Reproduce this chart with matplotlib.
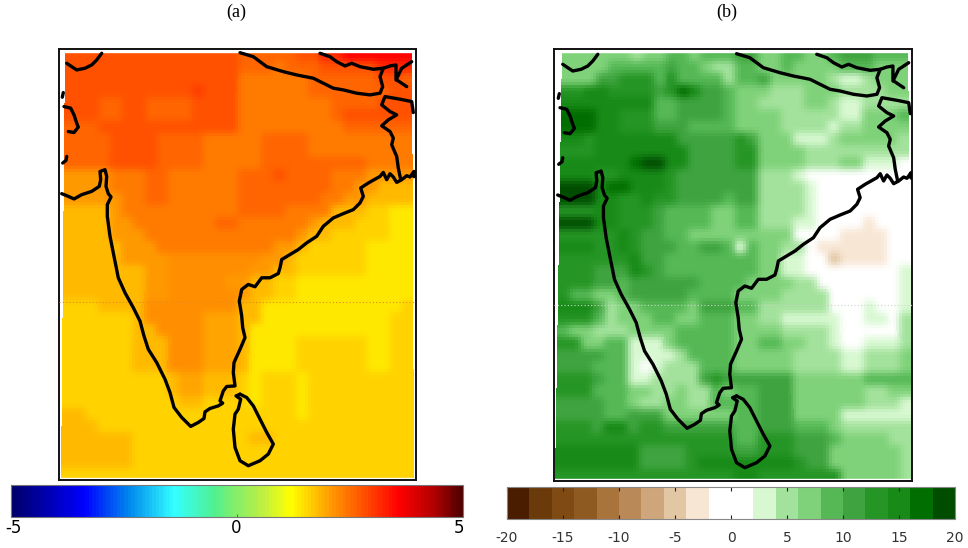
import numpy as np
import matplotlib
matplotlib.use('Agg')
import matplotlib.pyplot as plt
from matplotlib.colors import LinearSegmentedColormap, ListedColormap, BoundaryNorm, Normalize
from matplotlib.cm import ScalarMappable

# (a) temperature change, tenths of a degree, north to south
temp_tenths = [
    [28,28,28,28,28,28,28,28,28,28,28,28,28,28,28,26,26,26,26,26,28,28,32,32,36,36,36,36,36,36],
    [28,28,28,28,28,28,28,28,28,28,28,28,28,28,28,26,26,26,24,26,26,26,28,28,28,28,28,32,32,32],
    [28,28,28,28,28,28,28,28,28,28,28,28,28,28,28,24,24,24,24,24,24,26,26,26,26,26,26,28,28,26],
    [28,28,28,28,28,28,28,28,28,28,28,30,28,28,28,24,24,24,24,24,24,26,26,26,26,26,26,26,28,28],
    [28,28,28,26,26,28,28,26,26,26,26,28,28,28,28,24,24,24,24,24,24,24,24,26,26,26,26,28,28,28],
    [28,28,28,26,26,28,28,26,26,26,26,28,28,28,28,24,24,24,24,24,24,24,24,26,28,28,28,28,28,28],
    [26,26,26,28,28,28,28,28,28,28,28,28,28,28,28,24,24,24,24,24,24,24,24,24,26,26,26,26,26,26],
    [26,26,26,26,28,28,28,28,26,26,26,26,24,24,24,24,24,26,26,26,26,24,24,24,24,24,24,24,24,24],
    [26,26,26,26,28,28,28,28,26,26,26,26,24,24,24,24,24,26,26,26,26,24,24,24,24,24,24,24,24,24],
    [26,26,26,26,28,28,28,28,26,26,26,26,24,24,24,24,24,26,26,26,26,26,26,26,26,26,24,24,24,24],
    [21,21,21,21,24,24,24,26,26,24,24,24,24,24,24,26,26,26,28,26,26,26,26,24,24,24,21,21,21,21],
    [21,21,21,21,24,24,24,26,26,24,24,24,24,24,24,26,26,26,26,26,26,26,26,24,24,21,21,18,18,18],
    [21,21,21,21,21,24,24,26,26,24,24,24,24,24,24,26,26,26,26,26,26,26,24,24,21,21,18,18,18,18],
    [18,18,18,18,21,24,24,24,24,24,24,24,24,24,24,26,26,26,26,24,24,24,24,18,18,18,16,16,14,14],
    [18,18,18,18,21,21,24,24,24,24,24,24,24,26,26,24,24,24,24,24,24,21,18,18,18,16,16,16,14,14],
    [18,18,18,18,21,21,21,24,24,24,24,24,24,24,24,24,24,24,24,24,21,18,18,16,16,16,16,16,14,14],
    [18,18,18,18,18,21,21,21,24,24,24,24,24,24,24,24,24,24,21,21,18,16,16,16,16,16,14,14,14,14],
    [18,18,18,18,18,21,21,21,21,22,22,22,22,22,22,22,22,21,21,18,16,16,16,16,16,16,14,14,14,14],
    [18,18,18,18,18,18,18,21,21,22,22,22,22,22,22,22,21,21,18,18,16,16,16,16,16,16,14,14,14,14],
    [18,18,18,18,18,18,18,21,21,22,22,22,22,22,21,21,18,18,16,16,14,14,14,14,14,14,14,14,14,14],
    [18,18,18,18,18,18,18,21,21,22,22,22,22,22,22,21,18,18,16,16,14,14,14,14,14,14,14,14,14,14],
    [16,16,16,18,18,18,18,22,22,22,22,22,22,22,22,18,18,14,14,14,14,14,14,14,14,14,14,14,14,16],
    [16,16,16,16,16,16,18,22,22,22,22,22,20,20,20,18,18,14,14,14,14,14,14,14,14,14,14,14,16,16],
    [16,16,16,16,16,16,18,18,22,22,22,22,20,20,20,18,14,14,14,14,14,14,14,14,14,14,14,14,16,16],
    [16,16,16,16,16,16,18,18,18,22,22,22,20,20,20,18,14,14,14,14,16,16,16,16,16,16,14,14,16,16],
    [16,16,16,16,16,16,18,18,18,22,22,22,20,20,20,18,14,14,14,14,16,16,16,16,16,16,14,14,16,16],
    [16,16,16,16,16,16,18,18,18,22,22,22,20,20,20,18,14,14,14,14,16,16,16,16,16,16,14,14,16,16],
    [16,16,16,16,16,16,16,16,16,18,20,20,18,18,18,16,14,16,16,16,14,16,16,16,16,16,16,16,16,16],
    [16,16,16,16,16,16,16,16,16,18,20,20,18,18,18,16,14,16,16,16,14,16,16,16,16,16,16,16,16,16],
    [16,16,16,16,16,16,16,16,16,16,18,18,16,16,16,16,14,16,16,16,14,16,16,16,16,16,16,16,16,16],
    [18,18,16,16,16,16,16,16,16,16,16,16,16,16,16,16,16,16,16,16,14,16,16,16,16,16,16,16,16,16],
    [18,18,18,16,16,16,16,16,16,16,16,16,16,16,16,16,16,16,16,16,16,16,16,16,16,16,16,16,16,16],
    [18,18,18,18,18,18,16,16,16,16,16,16,16,16,16,16,18,18,16,16,16,16,16,16,16,16,16,16,16,16],
    [18,18,18,18,18,18,16,16,16,16,16,16,16,16,16,16,16,16,16,16,16,16,16,16,16,16,16,16,16,16],
    [18,18,18,18,18,18,16,16,16,16,16,16,16,16,16,16,16,16,16,16,16,16,16,16,16,16,16,16,16,16],
    [16,16,16,16,16,16,16,16,16,16,16,16,16,16,16,16,16,16,16,16,16,16,16,16,16,16,16,16,16,16],
]

# (b) rainfall change in percent, north to south
rain_pct = [
    [7,7,7,7,7,7,5,7,7,9,9,7,9,9,9,11,11,7,7,9,9,7,7,9,11,11,11,9,9,9],
    [7,7,7,7,9,9,9,9,9,11,9,9,7,5,5,9,9,7,7,9,7,7,7,7,9,9,9,7,7,7],
    [7,7,7,11,11,13,13,13,9,13,9,9,9,9,5,9,9,11,7,7,7,7,7,5,3,3,5,7,7,7],
    [13,13,15,15,13,13,13,13,11,13,17,15,11,11,9,7,7,7,5,5,5,7,7,7,5,5,5,5,7,7],
    [15,15,15,15,15,15,15,15,9,9,11,11,11,11,9,7,7,5,5,5,5,7,7,5,3,3,5,5,5,5],
    [17,17,17,15,15,13,13,13,9,9,11,11,11,11,9,7,7,7,7,5,5,5,5,5,3,3,7,7,7,9],
    [17,17,17,15,15,13,13,13,11,11,11,9,9,9,9,7,7,7,7,5,5,5,5,3,5,5,7,7,7,7],
    [15,15,13,15,15,15,15,15,15,15,11,11,11,11,11,13,11,7,7,7,3,3,3,5,7,7,7,7,7,5],
    [13,13,13,15,15,15,15,15,15,15,15,11,11,11,11,13,13,7,7,7,7,5,5,5,5,5,5,5,5,5],
    [15,15,15,15,15,15,17,19,19,15,15,11,11,11,11,13,13,7,7,7,7,5,5,5,7,7,3,3,3,0],
    [15,15,15,13,13,15,15,15,15,13,11,11,11,11,11,11,11,5,5,5,3,0,0,0,0,0,0,0,0,0],
    [19,19,19,15,17,17,15,15,15,13,11,11,11,11,11,11,11,5,5,5,5,3,0,0,0,0,0,0,0,0],
    [19,19,19,15,15,13,13,15,13,13,11,11,11,11,9,11,11,5,5,5,5,3,0,0,0,0,0,0,0,0],
    [13,13,13,15,15,13,13,13,11,9,9,9,9,7,7,9,9,5,5,5,5,3,0,0,0,0,0,0,0,0],
    [19,19,19,15,15,13,13,13,11,9,9,9,9,7,7,9,9,5,5,5,3,3,0,0,0,0,-3,0,0,0],
    [13,13,13,13,13,15,13,11,11,9,9,7,7,7,7,7,7,7,7,7,0,0,0,0,-3,-3,-3,-3,0,0],
    [15,15,15,13,13,15,13,11,11,11,9,9,11,11,9,3,9,7,7,5,5,0,-3,-3,-3,-3,-3,-3,0,0],
    [13,13,13,13,13,13,15,11,11,9,9,9,9,9,9,9,9,7,7,3,3,0,0,-5,-3,-3,-3,-3,0,0],
    [13,13,13,11,11,11,15,13,11,9,9,9,9,9,9,9,9,7,7,3,3,0,0,0,0,0,0,0,0,3],
    [13,13,13,11,11,9,11,11,11,11,11,11,9,9,9,9,7,7,7,7,5,5,0,0,0,0,0,0,0,3],
    [13,9,9,7,7,9,11,11,11,11,11,9,9,9,9,7,7,7,7,5,5,5,5,0,0,0,0,0,0,3],
    [15,15,15,11,5,7,7,9,9,9,9,7,11,11,11,9,9,5,5,5,5,5,5,0,0,0,3,0,0,3],
    [13,13,13,9,5,7,7,7,9,9,7,7,9,9,9,7,7,5,5,3,3,3,3,3,0,0,3,3,0,5],
    [9,7,7,5,5,5,7,7,7,7,9,9,9,9,9,7,7,7,7,5,5,5,5,3,0,0,0,0,0,5],
    [13,13,7,7,9,9,3,3,3,7,9,9,9,9,9,7,7,9,9,7,7,5,5,3,0,0,3,3,3,5],
    [11,11,11,11,9,9,3,3,3,3,5,9,9,9,9,7,7,7,7,7,5,5,5,5,3,3,5,5,5,7],
    [11,11,11,9,9,9,3,0,3,5,5,5,9,9,9,7,7,7,7,7,5,5,5,5,3,3,5,5,5,7],
    [13,13,13,11,9,9,3,3,5,5,5,5,11,13,11,11,11,11,11,11,7,7,7,7,7,7,9,9,9,9],
    [13,13,13,9,9,9,7,7,5,5,7,5,5,9,7,9,9,11,11,11,7,7,7,7,7,7,5,5,7,7],
    [11,11,11,11,9,9,7,5,5,7,7,5,5,9,9,9,9,11,11,11,7,7,7,7,7,7,5,5,5,3],
    [11,11,11,11,9,9,11,11,11,7,7,7,7,7,7,9,9,11,11,11,7,7,7,7,3,3,3,3,3,3],
    [13,13,13,11,15,15,11,13,13,11,11,11,11,11,11,9,9,11,11,11,9,9,9,7,5,5,5,5,5,5],
    [13,13,13,13,13,13,13,13,13,13,13,13,13,13,13,9,9,13,13,13,11,11,11,9,7,7,7,7,5,5],
    [15,15,15,15,15,15,15,11,11,11,11,13,13,13,13,11,11,13,13,13,11,11,11,7,7,7,7,7,7,5],
    [15,15,15,15,15,15,15,11,11,11,11,13,15,15,15,15,15,15,15,15,13,11,11,7,7,7,7,7,7,5],
    [13,13,13,13,13,13,13,13,13,13,13,13,13,13,13,15,15,13,13,13,13,13,13,13,7,7,7,7,7,5],
]

# coast and borders, map units are pixels of panel (a)
coast_main_x = [61.7,68.3,74,81.7,91.7,99.3,100.7,100,105,106.7,106,108.3,111,107.3,107.3,110,113.3,118.3,125,133.3,140,144,148.3,156.7,165,170,174,181.7,190.7,198.3,204,205,210,218.3,222.7,220,223.3,226.7,235,233.3,234,240,245,242.7,241.7,239.3,241.7,248.3,255,261.7,270,278.3,280,281.7,290,298.3,306.7,316.7,323.3,333.3,343.3,353.3,360,363.3,360.7,368.3,380,383.3,386.7,390,393.3,396.7,401.7,406.7,410,414,414]
coast_main_y = [194,196.7,199.3,195,191.7,186.7,180,171.7,170,176.7,186.7,194,197.3,205,216.7,236.7,253.3,278.3,293.3,308.3,321.7,336.7,350,363.3,380,393.3,408.3,418.3,427.3,423.3,419.3,412.7,409.3,406.7,404,401.7,391.7,387.3,386.7,373.3,363.3,350,338.3,328.3,316.7,301.7,290,285,287.3,278.3,278.3,274,268.3,260,255,250,243.3,236.7,226.7,218.3,214,210,203.3,196.7,188.3,183.3,176.7,172.7,180,174,177.3,182.7,180,176,177.3,171.7,177]
lanka_x = [240,246.7,253.3,260,266.7,273.3,268.3,260,248.3,240,235,233.3,235,238.3,240.7,236,240]
lanka_y = [395,398.3,406.7,420,433.3,445,455,461.7,466.7,461.7,448.3,430,415,410,400,396.7,395]
border_x = [
    [101.7,96.7,91.7,85,76.7,71.7,66.7],
    [63.3,62.3],
    [64,70.7,74,76.7,78.3,74,68.3],
    [66.7,66,62.7],
    [240,253.3,266.7,283.3,296.7,313.3,323.3,333.3,343.3,356.7,370,380,382.7,380,383.3,390,396,396,401.7,411.7],
    [320,330,336.7,345,351.7,360,373.3,383.3],
    [396.7,406.7],
    [413.3,411.7,400,385,381.7,390,396.7,388.3,381.7,390,393.3,391.7,396.7,398.3,400.7],
]
border_y = [
    [53.3,60,65,68.3,70,66.7,63.3],
    [92.7,97.3],
    [106.7,108.3,115,123.3,127.3,132.7,131.7],
    [156.7,160.7,163.3],
    [52.7,56.7,66.7,71.7,75,78.3,83.3,88.3,90,93.3,95,93.3,86.7,76.7,68.3,66,65,80,68.3,61.7],
    [53.3,56.7,61.7,66,63.3,66.7,69.3,68.3],
    [80,86.7],
    [112.7,101.7,99.3,96.7,105,111.7,115,120,126,131.7,138.3,145,156.7,168.3,180],
]

temp_ticks = [-5, 0, 5]
temp_tick_px = [13, 236, 459]
rain_ticks = [-20, -15, -10, -5, 0, 5, 10, 15, 20]
rain_edges = list(range(-20, 21, 2))
rain_colors = ['#4a1c00','#6b3a0a','#7f4a14','#8f5a22','#a9743c','#b98a58','#cfa67c','#e3c6a3','#f7e6d4','#ffffff',
               '#ffffff','#d8f8d2','#a3e29c','#80d27a','#55b855','#3fa43f','#259525','#178a17','#006e00','#004d00']
temp_stops = [-5,-3.4,-2.4,-1.4,-0.5,0,0.6,1.2,2.1,3.6,4.4,5]
temp_colors = ['#00006a','#0000ff','#0088ee','#33ffff','#50f090','#88ee66','#c0f040','#ffff00','#ff9900','#ff0000','#b00000','#500000']

W, H = 968, 548
plt.rcParams['axes.unicode_minus'] = False
fig = plt.figure(figsize=(W/100, H/100), dpi=100)

def px_axes(x0, y0, x1, y1):
    return fig.add_axes([x0/W, 1-y1/H, (x1-x0)/W, (y1-y0)/H])

temp_norm = Normalize(-5, 5)
temp_cmap = LinearSegmentedColormap.from_list('temp', [((v+5)/10, c) for v, c in zip(temp_stops, temp_colors)], N=128)
temp_fine = LinearSegmentedColormap.from_list('temp2', [((v+5)/10, c) for v, c in zip(temp_stops, temp_colors)], N=512)
rain_norm = BoundaryNorm(rain_edges, len(rain_colors))
rain_cmap = ListedColormap(rain_colors)

def draw_map(ax, rgb, dotted_color, dx, dy, edges):
    # upsample then soften a bit, the source image is a blurry bitmap
    fine = np.kron(rgb, np.ones((4, 4, 1)))
    pad = np.pad(fine, ((2, 2), (2, 2), (0, 0)), mode='edge')
    k = np.array([1, 2, 3, 2, 1]) / 9
    pad = np.apply_along_axis(lambda s: np.convolve(s, k, mode='same'), 0, pad)
    pad = np.apply_along_axis(lambda s: np.convolve(s, k, mode='same'), 1, pad)
    fine = np.clip(pad[2:-2, 2:-2], 0, 1)

    ny, nx = fine.shape[:2]
    ye = np.linspace(49, 481, ny+1)
    t = np.linspace(0, 1, nx+1)
    left = edges[2] + (481-ye)/432*(edges[0]-edges[2])
    right = edges[3] + (481-ye)/432*(edges[1]-edges[3])
    X = left[:, None] + (right-left)[:, None]*t[None, :]
    Y = np.repeat(ye[:, None], nx+1, axis=1)
    ax.pcolormesh(X, Y, fine, shading='flat', rasterized=True)
    ax.axhspan(49, 52, color='white', zorder=2)
    ax.axhspan(479, 481, color='white', zorder=2)

    ax.plot([59, 416], [303+dy*1.5, 303+dy*1.5], ls=(0, (1, 2)), lw=0.8, color=dotted_color, zorder=3)
    style = dict(color='black', lw=2.4, solid_joinstyle='round', solid_capstyle='round', zorder=4)
    ax.plot(np.array(coast_main_x)+dx, np.array(coast_main_y)+dy, **style)
    ax.plot(np.array(lanka_x)+dx, np.array(lanka_y)+dy, **style)
    for bx, by in zip(border_x, border_y):
        ax.plot(np.array(bx)+dx, np.array(by)+dy, **style)
    ax.set_xlim(59, 416)
    ax.set_ylim(481, 49)
    ax.set_xticks([])
    ax.set_yticks([])
    for s in ax.spines.values():
        s.set_linewidth(1.4)
        s.set_color('#111111')

ax_a = px_axes(59, 49, 416, 480)
temp_rgb = temp_fine(temp_norm(np.array(temp_tenths)/10))[..., :3]
draw_map(ax_a, temp_rgb, '#e08a20', 0, 0, (65, 412, 61, 414))

ax_b = px_axes(554, 49, 912, 481)
rain_rgb = rain_cmap(rain_norm(np.array(rain_pct)))[..., :3]
draw_map(ax_b, rain_rgb, '#c8d8c8', 1, 1, (67, 412, 60, 417))

fig.text(236/W, 1-12/H, '(a)', family='Liberation Serif', fontsize=13, ha='center', va='center')
fig.text(727/W, 1-12/H, '(b)', family='Liberation Serif', fontsize=13, ha='center', va='center')

cax_a = px_axes(11, 485, 463, 517)
cb_a = fig.colorbar(ScalarMappable(temp_norm, temp_cmap), cax=cax_a, orientation='horizontal')
cb_a.set_ticks(temp_ticks, labels=['', '', ''])
cb_a.ax.tick_params(axis='x', direction='in', length=2, width=0.6, color='#555555')
cb_a.outline.set_edgecolor('#777777')
cb_a.outline.set_linewidth(0.8)
for v, xp in zip(temp_ticks, temp_tick_px):
    fig.text(xp/W, 1-528/H, str(v), fontsize=12, ha='center', va='center')

cax_b = px_axes(507, 487, 955, 519)
cb_b = fig.colorbar(ScalarMappable(rain_norm, rain_cmap), cax=cax_b, orientation='horizontal', spacing='proportional')
cb_b.set_ticks(rain_ticks, labels=[str(v) for v in rain_ticks])
cb_b.minorticks_off()
cb_b.ax.tick_params(axis='x', direction='in', length=3, width=0.8, color='#222222', top=True, labelsize=10, labelcolor='#333333', pad=9)
cb_b.outline.set_edgecolor('#888888')
cb_b.outline.set_linewidth(0.8)
cb_b.dividers.set_visible(False)

fig.savefig('out.png', dpi=100)
